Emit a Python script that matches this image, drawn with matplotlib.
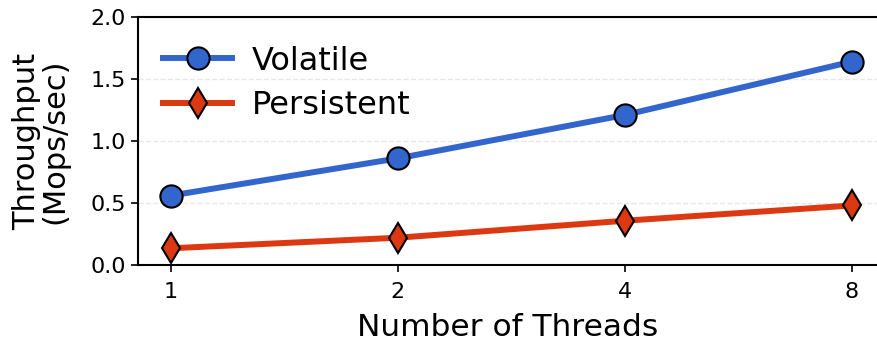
import matplotlib
matplotlib.use("Agg")
import matplotlib.pyplot as plt

# data
threads = ["1", "2", "4", "8"]
volatile = [0.56, 0.86, 1.21, 1.64]
persistent = [0.135, 0.22, 0.357, 0.48]

BLUE = "#3366cc"
RED = "#dc3912"

fig = plt.figure(figsize=(8.78, 3.41), dpi=100)
ax = fig.add_axes([138 / 878, 1 - 265 / 341, 1 - 138 / 878, (265 - 17) / 341])

x = range(len(threads))
ax.plot(x, volatile, "-o", color=BLUE, lw=4.3, ms=16, mec="black", mew=1.5,
        label="Volatile", zorder=3)
ax.plot(x, persistent, "-d", color=RED, lw=4.3, ms=15.5, mec="black", mew=1.5,
        label="Persistent", zorder=3)

ax.set_xlim(-0.145, 3.115)
ax.set_ylim(0, 2.0)
ax.set_yticks([0, 0.5, 1.0, 1.5, 2.0])
ax.set_xticks(list(x))
ax.set_xticklabels(threads)
ax.tick_params(labelsize=16, width=1.2, length=5)
ax.tick_params(axis="x", pad=7)
ax.yaxis.grid(True, linestyle="--", color="#e8e8e8", lw=1)
ax.set_axisbelow(True)
ax.spines["right"].set_visible(False)
for s in ("left", "bottom", "top"):
    ax.spines[s].set_linewidth(1.5)

ax.set_xlabel("Number of Threads", fontsize=22.5, labelpad=8)
ax.set_ylabel("Throughput\n(Mops/sec)", fontsize=22, linespacing=1.0, labelpad=15)
ax.legend(loc="upper left", bbox_to_anchor=(0.004, 0.975), fontsize=23, frameon=False,
          handlelength=2.15, borderaxespad=0.3, handletextpad=0.62, labelspacing=0.42)

fig.savefig("out.png", dpi=100)
